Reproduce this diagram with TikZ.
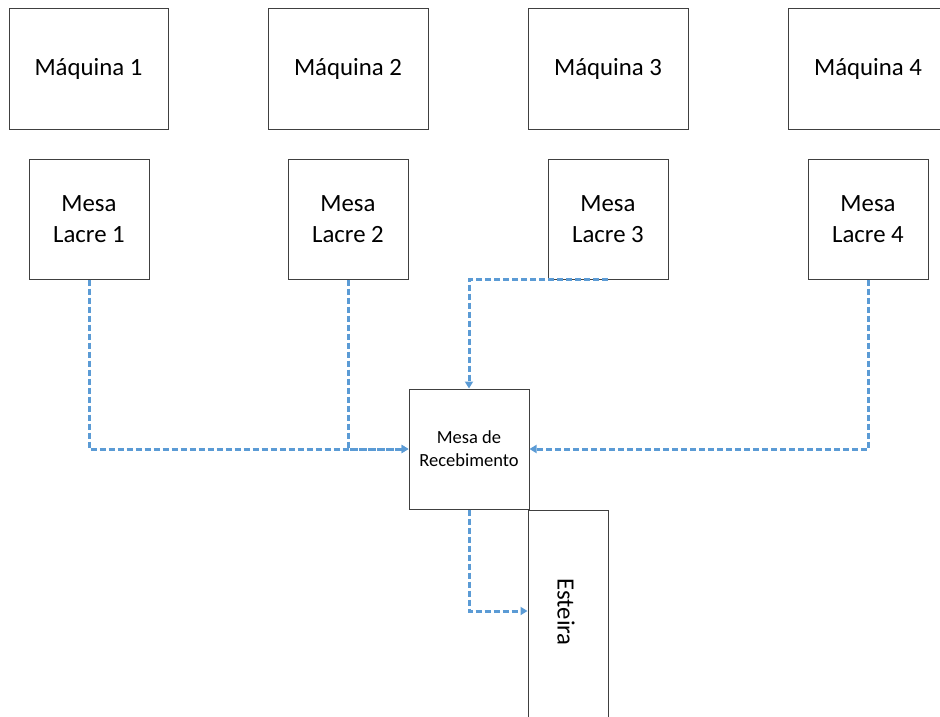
\documentclass[tikz,border=0pt]{standalone}
\usepackage{fontspec}
\setmainfont{Carlito}
\usetikzlibrary{arrows.meta,calc}
\definecolor{boxline}{HTML}{404040}
\definecolor{flow}{HTML}{5B9BD5}
\begin{document}
\begin{tikzpicture}[x=1pt,y=-1pt,
  box/.style={draw=boxline,line width=1pt,rectangle,inner sep=0pt,align=center,
    font=\fontsize{24.8}{30.5}\selectfont},
  smallbox/.style={box,font=\fontsize{18.5}{23}\selectfont},
  flowline/.style={draw=flow,line width=3pt,dash pattern=on 6pt off 3pt,
    -{Triangle[length=7pt,width=8pt]}}]
\useasboundingbox (0,0) rectangle (940,717);
\clip (0,0) rectangle (940,717);
% machines
\node[box,minimum width=159pt,minimum height=120pt] (M1) at (88.5,69) {Máquina 1};
\node[box,minimum width=160pt,minimum height=120pt] (M2) at (348,69) {Máquina 2};
\node[box,minimum width=160pt,minimum height=120pt] (M3) at (608,69) {Máquina 3};
\node[box,minimum width=160pt,minimum height=120pt] (M4) at (868,69) {Máquina 4};
% sealing tables
\node[box,minimum width=120pt,minimum height=120pt] (L1) at (89,219) {Mesa\\Lacre 1};
\node[box,minimum width=120pt,minimum height=120pt] (L2) at (348,219) {Mesa\\Lacre 2};
\node[box,minimum width=120pt,minimum height=120pt] (L3) at (608,219) {Mesa\\Lacre 3};
\node[box,minimum width=120pt,minimum height=120pt] (L4) at (868,219) {Mesa\\Lacre 4};
% receiving table
\node[smallbox,minimum width=120pt,minimum height=120pt] (R) at (469,449) {Mesa de\\Recebimento};
% conveyor
\node[box,minimum width=80pt,minimum height=208pt] (E) at (568,614) {};
\node[font=\fontsize{24.8}{30.5}\selectfont,rotate=-90,inner sep=0pt] (Et) at (566,612) {Esteira};
% flows
\draw[flowline] (L1.south) |- (R.west);
\draw[flowline] (L2.south) |- (R.west);
\draw[flowline] (L4.south) |- (R.east);
\draw[flowline] (L3.south) -| (R.north);
\draw[flowline] (R.south) |- ([yshift=3pt]E.west);
\end{tikzpicture}
\end{document}
